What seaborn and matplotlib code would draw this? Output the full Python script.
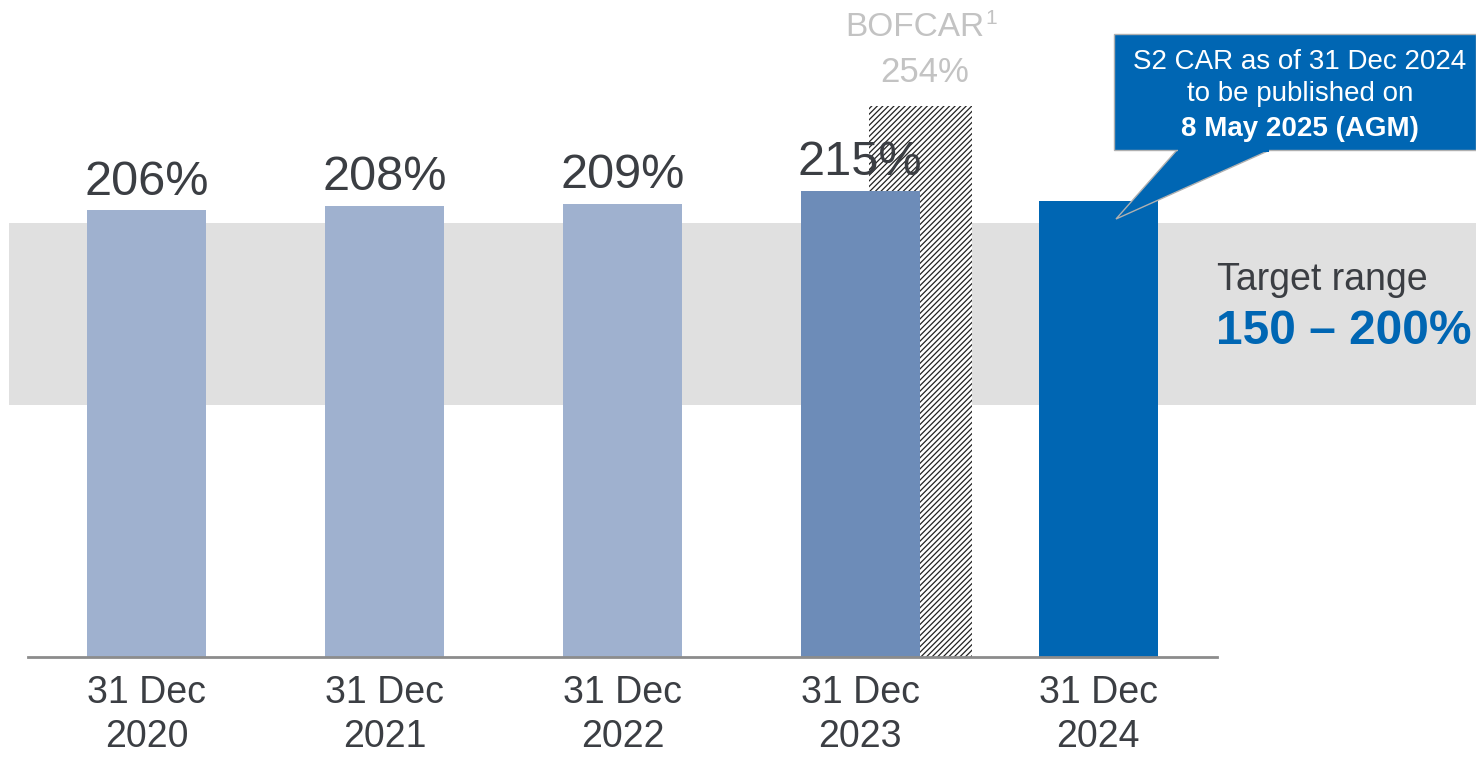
import seaborn as sns
import matplotlib.pyplot as plt
import pandas as pd
from matplotlib.patches import Polygon, Rectangle

# data
periods = ["31 Dec\n2020", "31 Dec\n2021", "31 Dec\n2022", "31 Dec\n2023", "31 Dec\n2024"]
car_values = [206, 208, 209, 215, 210]
car_labels = ["206%", "208%", "209%", "215%", ""]
bar_colors = ["#9fb1cf", "#9fb1cf", "#9fb1cf", "#6d8cb8", "#0066b3"]
bofcar_value = 254
bofcar_label = "254%"
band_low, band_high = 116, 200

DARK = "#3b3e43"
BLUE = "#0066b3"

sns.set_theme(style="white")
plt.rcParams["font.family"] = ["Liberation Sans", "DejaVu Sans"]
plt.rcParams["hatch.linewidth"] = 0.9
plt.rcParams["hatch.color"] = "#222222"

fig = plt.figure(figsize=(14.76, 7.57), dpi=100)
ax = fig.add_axes([28 / 1476, 100 / 757, 1189 / 1476, 657 / 757])

df = pd.DataFrame({"period": periods, "car": car_values})

# target band behind everything, running past the axes
ax.axhspan(band_low, band_high, xmin=-0.016, xmax=1.22, color="#e0e0e0",
           zorder=0, clip_on=False, lw=0)

# BOFCAR hatched bar, tucked behind the 2023 bar
ax.bar(3.252, bofcar_value, width=0.433, color="white", edgecolor="#222222",
       hatch="//////", lw=0, zorder=1)

sns.barplot(data=df, x="period", y="car", hue="period", palette=bar_colors,
            width=0.5, legend=False, ax=ax, zorder=2, saturation=1, linewidth=0)

for i, (v, lab) in enumerate(zip(car_values, car_labels)):
    ax.text(i, v + 2.5, lab, ha="center", va="bottom", fontsize=35, color=DARK, zorder=4)

ax.text(3.27, bofcar_value + 8, bofcar_label, ha="center", va="bottom",
        fontsize=25, color="#c3c3c3")
ax.text(3.523, bofcar_value + 29, "BOFCAR", ha="right", va="bottom",
        fontsize=24, color="#c3c3c3", clip_on=False)
ax.text(3.527, bofcar_value + 36, "1", ha="left", va="bottom",
        fontsize=15, color="#c3c3c3", clip_on=False)

ax.set_xlim(-0.5, 4.5)
ax.set_ylim(0, 302.8)
ax.set_xlabel("")
ax.set_ylabel("")
ax.set_yticks([])
for s in ["top", "right", "left"]:
    ax.spines[s].set_visible(False)
ax.spines["bottom"].set_color("#8c8c8c")
ax.spines["bottom"].set_linewidth(2)
ax.spines["bottom"].set_zorder(5)
ax.tick_params(axis="x", length=0, pad=13, labelsize=27, colors=DARK)
for t in ax.get_xticklabels():
    t.set_linespacing(1.3)

# target range label
fig.text(1217 / 1476, 1 - 280 / 757, "Target range", fontsize=27, color=DARK,
         ha="left", va="center")
fig.text(1216 / 1476, 1 - 331 / 757, "150 – 200%", fontsize=34.5, color=BLUE,
         fontweight="bold", ha="left", va="center")

# callout box with tail pointing at the 2024 bar
W, H = 1476, 757
tail = Polygon([(1177 / W, 1 - 150 / H), (1116 / W, 1 - 219 / H), (1270 / W, 1 - 150 / H)],
               closed=True, transform=fig.transFigure, fc=BLUE, ec="#b0b0b0", lw=1, zorder=6)
box = Rectangle((1114 / W, 1 - 150 / H), (1476 - 1114) / W, 116 / H,
                transform=fig.transFigure, fc=BLUE, ec="#b0b0b0", lw=1, zorder=7)
fig.add_artist(tail)
fig.add_artist(box)
fig.add_artist(Rectangle((1178 / W, 1 - 152 / H), 91 / W, 4 / H, transform=fig.transFigure,
                         fc=BLUE, ec="none", zorder=8))
cx = 1300 / W
fig.text(cx, 1 - 62 / H, "S2 CAR as of 31 Dec 2024", fontsize=20, color="white",
         ha="center", va="center", zorder=9)
fig.text(cx, 1 - 94 / H, "to be published on", fontsize=20, color="white",
         ha="center", va="center", zorder=9)
fig.text(cx, 1 - 129 / H, "8 May 2025 (AGM)", fontsize=20, color="white",
         fontweight="bold", ha="center", va="center", zorder=9)

fig.savefig("out.png", dpi=100)
plt.close(fig)
